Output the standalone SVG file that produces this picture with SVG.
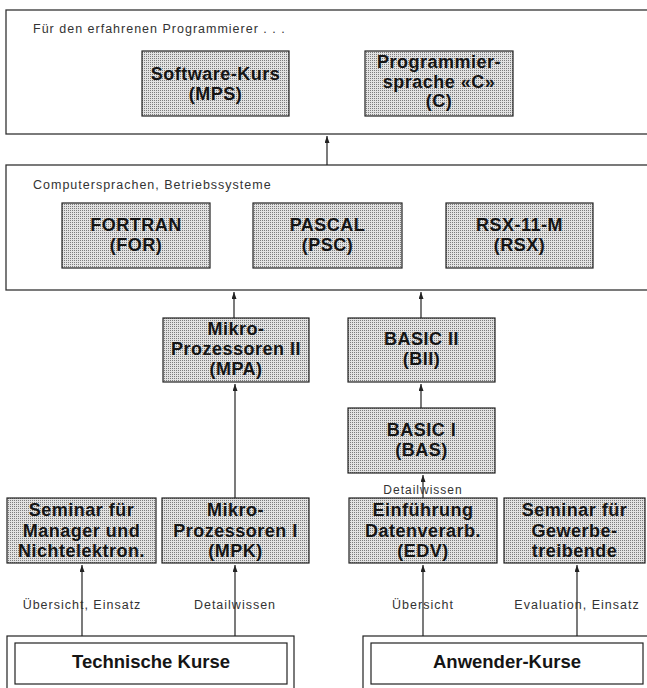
<svg xmlns="http://www.w3.org/2000/svg" width="647" height="688" viewBox="0 0 647 688">
<style>
.panel{fill:#ffffff;stroke:#333;stroke-width:1.3}
.box{fill:url(#dots);stroke:#222;stroke-width:1.2}
.obox{fill:#ffffff;stroke:#222;stroke-width:1.2}
.bt{font-family:"Liberation Sans",Arial,sans-serif;font-weight:bold;font-size:18px;letter-spacing:0.5px;fill:#151515;text-anchor:middle}
.ot{font-family:"Liberation Sans",Arial,sans-serif;font-weight:bold;font-size:18.5px;fill:#151515;text-anchor:middle}
.lt{font-family:"Liberation Sans",Arial,sans-serif;font-size:12.5px;letter-spacing:1px;fill:#333}
.lc{text-anchor:middle}
.conn line{stroke:#222;stroke-width:1.2;marker-end:url(#ah)}
</style>
<defs>
<pattern id="dots" width="2" height="2" patternUnits="userSpaceOnUse">
<rect width="2" height="2" fill="#e2e2e2"/>
<rect width="1" height="1" fill="#7c7c7c"/>
</pattern>
<marker id="ah" markerWidth="8" markerHeight="6" refX="7" refY="2.5" orient="auto" markerUnits="userSpaceOnUse">
<path d="M0,0 L7,2.5 L0,5 z" fill="#222"/>
</marker>
</defs>
<rect width="647" height="688" fill="#ffffff"/>

<g id="panel-programmierer">
<rect class="panel" x="6" y="10" width="646" height="124"/>
<text class="lt" x="33" y="33">Für den erfahrenen Programmierer . . .</text>
</g>
<g id="panel-sprachen">
<rect class="panel" x="6" y="165" width="646" height="125"/>
<text class="lt" x="33" y="189">Computersprachen, Betriebssysteme</text>
</g>

<g id="mps">
<rect class="box" x="142" y="51" width="147" height="65"/>
<text class="bt" x="215.5" y="80">Software-Kurs</text>
<text class="bt" x="215.5" y="100">(MPS)</text>
</g>
<g id="c">
<rect class="box" x="365" y="51" width="148" height="65"/>
<text class="bt" x="439" y="68">Programmier-</text>
<text class="bt" x="439" y="88">sprache «C»</text>
<text class="bt" x="439" y="107">(C)</text>
</g>

<g id="for">
<rect class="box" x="62" y="203" width="148" height="65"/>
<text class="bt" x="136" y="231">FORTRAN</text>
<text class="bt" x="136" y="251">(FOR)</text>
</g>
<g id="psc">
<rect class="box" x="253" y="203" width="149" height="65"/>
<text class="bt" x="327.5" y="231">PASCAL</text>
<text class="bt" x="327.5" y="251">(PSC)</text>
</g>
<g id="rsx">
<rect class="box" x="446" y="203" width="147" height="65"/>
<text class="bt" x="519.5" y="231">RSX-11-M</text>
<text class="bt" x="519.5" y="251">(RSX)</text>
</g>

<g id="mpa">
<rect class="box" x="163" y="318" width="146" height="64"/>
<text class="bt" x="236" y="335">Mikro-</text>
<text class="bt" x="236" y="355">Prozessoren II</text>
<text class="bt" x="236" y="375">(MPA)</text>
</g>
<g id="bii">
<rect class="box" x="348" y="318" width="147" height="64"/>
<text class="bt" x="421.5" y="345">BASIC II</text>
<text class="bt" x="421.5" y="365">(BII)</text>
</g>
<g id="bas">
<rect class="box" x="348" y="408" width="147" height="65"/>
<text class="bt" x="421.5" y="436">BASIC I</text>
<text class="bt" x="421.5" y="456">(BAS)</text>
</g>

<g id="seminar-manager">
<rect class="box" x="7" y="498" width="149" height="65"/>
<text class="bt" x="81.5" y="516">Seminar für</text>
<text class="bt" x="81.5" y="536.5">Manager und</text>
<text class="bt" x="81.5" y="557">Nichtelektron.</text>
</g>
<g id="mpk">
<rect class="box" x="162" y="498" width="147" height="65"/>
<text class="bt" x="235.5" y="516">Mikro-</text>
<text class="bt" x="235.5" y="536.5">Prozessoren I</text>
<text class="bt" x="235.5" y="557">(MPK)</text>
</g>
<g id="edv">
<rect class="box" x="349" y="498" width="148" height="65"/>
<text class="bt" x="423" y="516">Einführung</text>
<text class="bt" x="423" y="536.5">Datenverarb.</text>
<text class="bt" x="423" y="557">(EDV)</text>
</g>
<g id="seminar-gewerbe">
<rect class="box" x="504" y="498" width="141" height="65"/>
<text class="bt" x="574.5" y="516">Seminar für</text>
<text class="bt" x="574.5" y="536.5">Gewerbe-</text>
<text class="bt" x="574.5" y="557">treibende</text>
</g>

<g id="technische-kurse">
<rect class="obox" x="7" y="636" width="287" height="58"/>
<rect class="obox" x="15" y="643" width="272" height="41"/>
<text class="ot" x="151" y="668">Technische Kurse</text>
</g>
<g id="anwender-kurse">
<rect class="obox" x="363" y="636" width="290" height="58"/>
<rect class="obox" x="371" y="643" width="272" height="41"/>
<text class="ot" x="507" y="668">Anwender-Kurse</text>
</g>

<g id="connectors" class="conn">
<line x1="327" y1="165" x2="327" y2="136"/>
<line x1="234" y1="318" x2="234" y2="292"/>
<line x1="421" y1="318" x2="421" y2="292"/>
<line x1="235" y1="498" x2="235" y2="384"/>
<line x1="421" y1="408" x2="421" y2="384"/>
<line x1="423" y1="498" x2="423" y2="475"/>
<line x1="82" y1="636" x2="82" y2="565"/>
<line x1="235" y1="636" x2="235" y2="565"/>
<line x1="423" y1="636" x2="423" y2="565"/>
<line x1="577" y1="636" x2="577" y2="565"/>
</g>
<g id="labels">
<text class="lt lc" x="423" y="494" style="font-size:12px">Detailwissen</text>
<text class="lt lc" x="82" y="609">Übersicht, Einsatz</text>
<text class="lt lc" x="235" y="609">Detailwissen</text>
<text class="lt lc" x="423" y="609">Übersicht</text>
<text class="lt lc" x="577" y="609">Evaluation, Einsatz</text>
</g>
</svg>
